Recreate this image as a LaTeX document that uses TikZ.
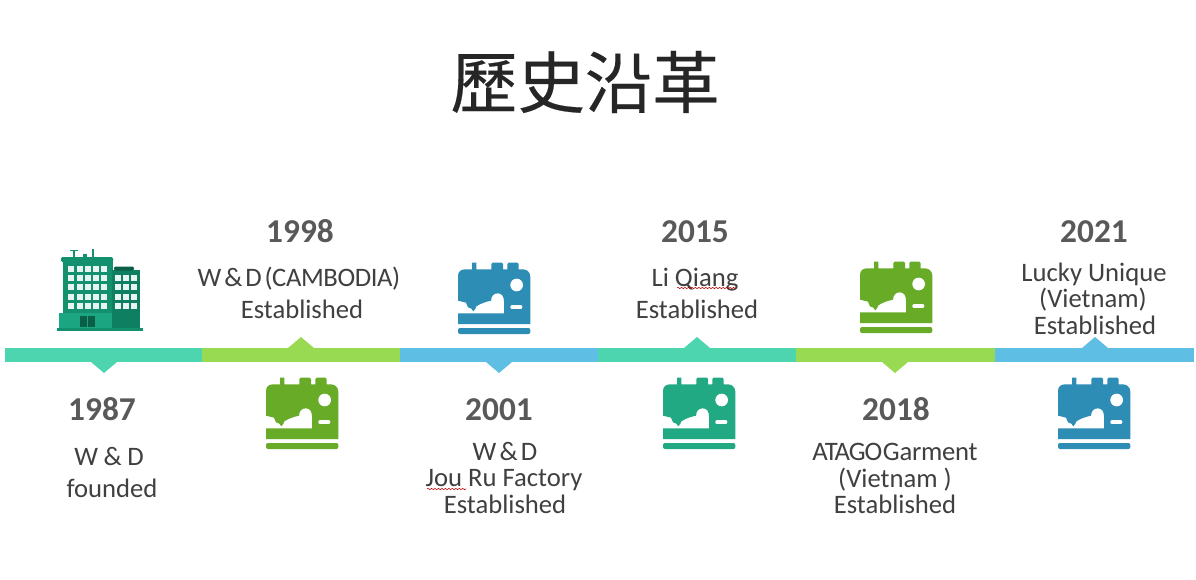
\documentclass[tikz,border=0pt]{standalone}
\usepackage{fontspec}
\setmainfont{Carlito}
\newfontfamily\cjk[FakeBold=0.3]{Noto Sans CJK TC}
\usetikzlibrary{decorations.pathmorphing}
\definecolor{txt}{HTML}{404040}
\definecolor{yr}{HTML}{595959}
\definecolor{blueD}{HTML}{2E8DB5}
\definecolor{greenD}{HTML}{67AB27}
\definecolor{tealD}{HTML}{20A983}
\definecolor{tealL}{HTML}{4DD5B0}
\definecolor{greenL}{HTML}{98DB52}
\definecolor{blueL}{HTML}{5FBEE4}
\definecolor{bA}{HTML}{13916F}
\definecolor{bB}{HTML}{0F7F61}
\definecolor{bC}{HTML}{1BA580}
\definecolor{bD}{HTML}{0B5E48}
\tikzset{
  year/.style={font=\fontsize{25}{30}\selectfont\bfseries, text=yr, inner sep=0pt, anchor=base},
  lab/.style={font=\fontsize{20}{24}\selectfont, text=txt, inner sep=0pt, anchor=base},
  squig/.style={red!75!black, line width=0.4pt, decorate, decoration={snake, amplitude=0.5pt, segment length=2.6pt}},
  pics/sew/.style={code={
    \begin{scope}[x=0.25pt,y=-0.25pt]
      \fill[#1]
        (0,154) -- (138,154) -- (138,118)
        .. controls (138,103) and (131,94) .. (120,94)
        .. controls (108,94) and (100,100) .. (99,116)
        .. controls (85,119) and (68,124) .. (55,133)
        -- (52,140) -- (46,148) -- (40,140) -- (30,136) -- (24,122) -- (0,116)
        -- (0,42) .. controls (0,30) and (8,22) .. (20,22)
        -- (42,22) -- (42,2) -- (55,2) -- (55,22)
        -- (100,22) -- (100,6) -- (104,2) -- (131,2) -- (135,6) -- (135,22)
        -- (148,22) -- (148,6) -- (152,2) -- (178,2) -- (182,6) -- (182,22)
        -- (195,22) .. controls (208,22) and (217,32) .. (217,45)
        -- (217,186) -- (0,186) -- cycle;
      \fill[white] (176,69) circle (19);
      \draw[white,line width=2.6pt,line cap=round] (162,135.5) -- (188,135.5);
      \fill[#1,rounded corners=1.5pt] (0,198) rectangle (217,216);
    \end{scope}
  }},
}
\begin{document}
\begin{tikzpicture}[x=0.75pt,y=-0.75pt]
\useasboundingbox (0,0) rectangle (1196,579);
\fill[white] (0,0) rectangle (1196,579);
\node[font=\cjk\fontsize{50.5}{60}\selectfont, text=black!85, inner sep=0pt] (title) at (585,82) {歷史沿革};

% timeline
\fill[tealL] (5,348) rectangle (202,362);
\fill[greenL] (202,348) rectangle (400,362);
\fill[blueL] (400,348) rectangle (598,362);
\fill[tealL] (598,348) rectangle (796,362);
\fill[greenL] (796,348) rectangle (995,362);
\fill[blueL] (995,348) rectangle (1194,362);
\fill[tealL] (91,362) -- (117,362) -- (104,373) -- cycle;
\fill[greenL] (288,348) -- (314,348) -- (301,337) -- cycle;
\fill[blueL] (486,362) -- (512,362) -- (499,373) -- cycle;
\fill[tealL] (684,348) -- (710,348) -- (697,337) -- cycle;
\fill[greenL] (882,362) -- (908,362) -- (895,373) -- cycle;
\fill[blueL] (1082,348) -- (1108,348) -- (1095,337) -- cycle;

% building
\fill[bA] (63,258) rectangle (113,313);
\fill[bA,rounded corners=1pt] (61,257) rectangle (113,262);
\fill[bA] (73,250) rectangle (75,257);
\fill[bA] (70,249.5) rectangle (78,251);
\fill[bA] (83,254) rectangle (87,257);
\fill[bA] (92,249) rectangle (94,257);
\fill[bB] (112,270) rectangle (139.5,318);
\fill[bD,rounded corners=1pt] (114,266.5) rectangle (134,270.5);
\fill[bC] (59,313) rectangle (112,328);
\fill[bB] (112,313) rectangle (139.5,328);
\fill[bA] (57,328) rectangle (143,331);
\fill[bD] (80,316) rectangle (95,327);
\fill[bC] (87,316) rectangle (88,327);
\foreach \yy in {265.5,275,284,293.5,303}{
  \foreach \xx in {68,76.5,84.5,92.5,100.5}{
    \fill[white!90!bA] (\xx,\yy) rectangle ++(6,6);
  }
}
\foreach \yy in {275,284,293.5,303}{
  \foreach \xx in {115,123,131}{
    \fill[white!90!bA] (\xx,\yy) rectangle ++(6,6);
  }
}

% sewing machines
\pic at (458,262) {sew=blueD};
\pic at (860,261) {sew=greenD};
\pic at (266,377) {sew=greenD};
\pic at (663,377) {sew=tealD};
\pic at (1058,377) {sew=blueD};

% years
\node[year] (y1987) at (102,420) {1987};
\node[year] (y1998) at (300,242) {1998};
\node[year] (y2001) at (499,420) {2001};
\node[year] (y2015) at (695,242) {2015};
\node[year] (y2018) at (896,420) {2018};
\node[year] (y2021) at (1094,242) {2021};

% labels
\node[lab] (a1) at (109,465) {W\hspace{-.4pt} \&\hspace{-.4pt} D};
\node[lab] (a2) at (112,497) {founded};
\node[lab] (b1) at (299,286) {W\hspace{-2.4pt} \&\hspace{-2.4pt} D\hspace{-2.4pt} {\addfontfeature{LetterSpace=-1.5}(CAMBODIA)}};
\node[lab] (b2) at (302,318) {Established};
\node[lab] (c1) at (505,460) {W\hspace{-2.2pt} \&\hspace{-2.2pt} D};
\node[lab] (c2) at (504,486) {Jou Ru Factory};
\node[lab] (c3) at (505,513) {Established};
\node[lab] (d1) at (695,286) {Li Qiang};
\node[lab] (d2) at (697,318) {Established};
\node[lab] (e1) at (895,460) {{\addfontfeature{LetterSpace=-4}ATAGO}\hspace{-3.9pt} {\addfontfeature{LetterSpace=-1}Garment}};
\node[lab] (e2) at (895,487) {(Vietnam )};
\node[lab] (e3) at (895,513) {Established};
\node[lab] (f1) at (1094,281) {Lucky Unique};
\node[lab] (f2) at (1093,307) {(Vietnam)};
\node[lab] (f3) at (1095,334) {Established};

% spell-check squiggles
\draw[squig] (427,489) -- (466,489);
\draw[squig] (677,288) -- (737,288);
\end{tikzpicture}
\end{document}
